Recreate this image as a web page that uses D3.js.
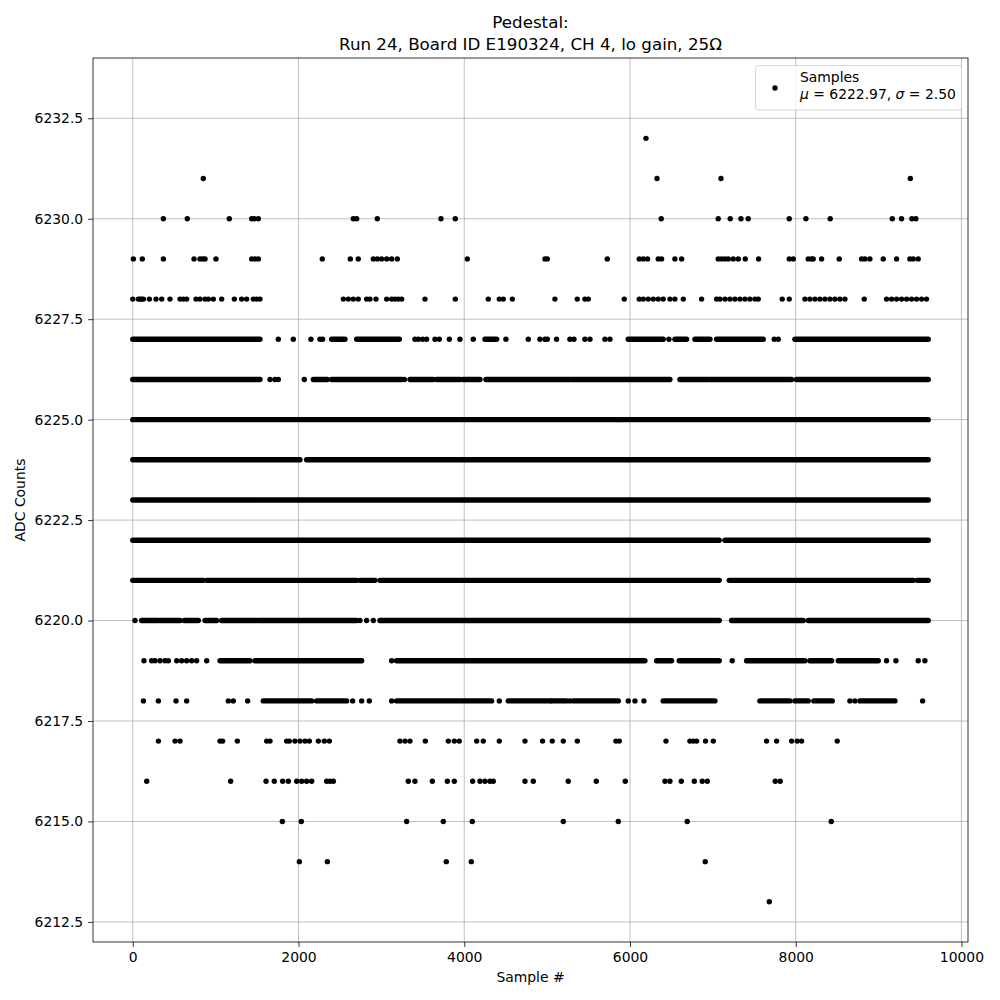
<!DOCTYPE html>
<html>
<head>
<meta charset="utf-8">
<script src="https://cdn.jsdelivr.net/npm/d3@7"></script>
<style>
  body { margin: 0; background: #fff; }
  text { font-family: "DejaVu Sans", sans-serif; fill: #000; }
</style>
</head>
<body>
<script>
// ADC levels (one row of samples per integer count)
var levels = [6232, 6231, 6230, 6229, 6228, 6227, 6226, 6225, 6224, 6223,
              6222, 6221, 6220, 6219, 6218, 6217, 6216, 6215, 6214, 6213];

// isolated samples (sample #) at each level, same order as levels
var isolated = [
  [6193],
  [851, 6326, 7098, 9383],
  [369, 658, 1165, 1435, 1467, 1515, 2661, 2702, 2951, 3719, 3892, 6377, 7065, 7210, 7339, 7427, 7922, 8123, 8416, 9165, 9277, 9402, 9450],
  [7, 115, 369, 739, 811, 843, 872, 1004, 1435, 1475, 1515, 2287, 2625, 2721, 2903, 2951, 3003, 3064, 3124, 3192, 4037, 4974, 5002, 5726, 6112, 6160, 6212, 6341, 6381, 6542, 6623, 7065, 7105, 7146, 7186, 7246, 7307, 7391, 7552, 7922, 7970, 8151, 8191, 8211, 8312, 8525, 8795, 8835, 8895, 9056, 9217, 9378, 9418, 9478],
  [0, 67, 87, 107, 128, 200, 280, 349, 449, 570, 610, 650, 763, 811, 872, 912, 972, 1073, 1226, 1314, 1374, 1455, 1495, 1535, 2541, 2601, 2661, 2721, 2822, 2862, 2935, 3064, 3124, 3164, 3204, 3245, 3526, 3892, 4290, 4423, 4471, 4580, 5094, 5364, 5456, 5497, 5931, 6112, 6160, 6220, 6281, 6341, 6401, 6482, 6542, 6643, 6864, 7045, 7085, 7146, 7206, 7266, 7327, 7387, 7447, 7508, 7548, 7837, 7922, 8111, 8171, 8232, 8292, 8352, 8413, 8473, 8533, 8594, 8827, 9096, 9157, 9217, 9278, 9338, 9398, 9458, 9519, 9579],
  [1756, 1937, 2150, 2259, 2291, 3405, 3446, 3498, 3546, 3647, 3699, 3820, 3948, 4109, 4503, 4773, 4913, 4974, 5002, 5114, 5275, 5324, 5456, 5517, 5698, 5758, 6470, 7741, 7789],
  [1656, 1716, 1756, 2070, 3277],
  [],
  [],
  [],
  [],
  [],
  [27, 2742, 2822, 2903],
  [135, 228, 268, 329, 389, 429, 530, 590, 650, 711, 771, 892, 3124, 7234, 9096, 9209, 9478, 9559],
  [128, 309, 522, 650, 1153, 1213, 1386, 2653, 2762, 2854, 3124, 4423, 5275, 5979, 6060, 6168, 8654, 8714, 9531],
  [309, 510, 570, 1053, 1085, 1262, 1616, 1656, 1857, 1889, 1957, 2018, 2078, 2131, 2239, 2311, 2372, 3224, 3285, 3345, 3530, 3808, 3880, 3940, 4150, 4230, 4423, 4733, 4945, 5062, 5195, 5364, 5830, 5871, 6434, 6723, 6764, 6804, 6912, 7005, 7648, 7769, 7950, 8018, 8071, 8501],
  [168, 1181, 1608, 1708, 1809, 1877, 1978, 2038, 2098, 2159, 2340, 2380, 2420, 3325, 3405, 3615, 3796, 3880, 4101, 4190, 4250, 4310, 4350, 4733, 4833, 5255, 5593, 5943, 6422, 6482, 6619, 6776, 6872, 6933, 7753, 7813],
  [1805, 2034, 3305, 3747, 4097, 5195, 5859, 6691, 8429],
  [2010, 2348, 3783, 4085, 6908],
  [7681]
];

// dense runs of consecutive samples [first, last] at each level
var runs = [
  [], [], [], [], [],
  [[0, 1535], [2400, 2561], [2702, 3217], [4250, 4391], [5979, 6401], [6542, 6683], [6784, 6965], [7045, 7608], [7990, 9599]],
  [[0, 1535], [2179, 2348], [2400, 3245], [3345, 3627], [3667, 3948], [3980, 4190], [4262, 5275], [5295, 6482], [6603, 6944], [6965, 7950], [8010, 9599]],
  [[0, 5845], [5870, 9599]],
  [[0, 2018], [2098, 9599]],
  [[0, 9599]],
  [[0, 7077], [7146, 9599]],
  [[0, 851], [892, 2702], [2742, 2923], [2983, 7077], [7198, 9418], [9466, 9599]],
  [[107, 309], [329, 570], [622, 791], [872, 1012], [1073, 1495], [1515, 2702], [2983, 7077], [7226, 8091], [8151, 9599]],
  [[1053, 1414], [1475, 2762], [3184, 5014], [5034, 6180], [6321, 6502], [6594, 7077], [7407, 8111], [8171, 8433], [8513, 8996]],
  [[1575, 2159], [2219, 2581], [3184, 4330], [4532, 5034], [5054, 5235], [5316, 5859], [6401, 7025], [7568, 7930], [7990, 8151], [8219, 8441], [8775, 9197]],
  [], [], [], [], []
];

var xTicks = [0, 2000, 4000, 6000, 8000, 10000];
var yTicks = [6212.5, 6215.0, 6217.5, 6220.0, 6222.5, 6225.0, 6227.5, 6230.0, 6232.5];

var w = 1000, h = 1000;
var mLeft = 93, mRight = 968, mTop = 58, mBottom = 942;
var r = 2.7;

var svg = d3.select("body").append("svg")
    .attr("width", w)
    .attr("height", h)
    .style("background", "#fff");

var x = d3.scaleLinear().domain([-480, 10079]).range([mLeft, mRight]);
var y = d3.scaleLinear().domain([6212, 6234]).range([mBottom, mTop]);

// grid
svg.append("g").selectAll("line").data(xTicks).enter().append("line")
    .attr("x1", function(d){ return x(d); }).attr("x2", function(d){ return x(d); })
    .attr("y1", mTop).attr("y2", mBottom)
    .attr("stroke", "#b0b0b0").attr("stroke-width", 0.8);
svg.append("g").selectAll("line").data(yTicks).enter().append("line")
    .attr("x1", mLeft).attr("x2", mRight)
    .attr("y1", function(d){ return y(d); }).attr("y2", function(d){ return y(d); })
    .attr("stroke", "#b0b0b0").attr("stroke-width", 0.8);

// flatten the data
var pts = [], segs = [];
levels.forEach(function(v, i){
    isolated[i].forEach(function(s){ pts.push({s: s, v: v}); });
    runs[i].forEach(function(rg){ segs.push({a: rg[0], b: rg[1], v: v}); });
});

// dense runs: overlapping markers render as a solid band
svg.append("g").selectAll("line").data(segs).enter().append("line")
    .attr("x1", function(d){ return x(d.a); })
    .attr("x2", function(d){ return x(d.b); })
    .attr("y1", function(d){ return y(d.v); })
    .attr("y2", function(d){ return y(d.v); })
    .attr("stroke", "#000")
    .attr("stroke-width", r * 2)
    .attr("stroke-linecap", "round");

svg.append("g").selectAll("circle").data(pts).enter().append("circle")
    .attr("cx", function(d){ return x(d.s); })
    .attr("cy", function(d){ return y(d.v); })
    .attr("r", r)
    .attr("fill", "#000");

// axes
var xAxis = svg.append("g")
    .attr("transform", "translate(0," + mBottom + ")")
    .call(d3.axisBottom(x).tickValues(xTicks).tickFormat(d3.format("d")).tickSizeInner(4.9).tickSizeOuter(0).tickPadding(4.9));
var yAxis = svg.append("g")
    .attr("transform", "translate(" + mLeft + ",0)")
    .call(d3.axisLeft(y).tickValues(yTicks).tickFormat(d3.format(".1f")).tickSizeInner(4.9).tickSizeOuter(0).tickPadding(4.9));
[xAxis, yAxis].forEach(function(a){
    a.select(".domain").remove();
    a.selectAll("line").attr("stroke", "#000").attr("stroke-width", 0.8);
    a.selectAll("text").style("font-family", "DejaVu Sans").style("font-size", "13.9px");
});

svg.append("rect")
    .attr("x", mLeft).attr("y", mTop)
    .attr("width", mRight - mLeft).attr("height", mBottom - mTop)
    .attr("fill", "none").attr("stroke", "#000").attr("stroke-width", 0.8);

// titles and labels
var title = svg.append("text")
    .attr("text-anchor", "middle")
    .style("font-size", "16.7px");
title.append("tspan").attr("x", (mLeft + mRight) / 2).attr("y", 28).text("Pedestal:");
title.append("tspan").attr("x", (mLeft + mRight) / 2).attr("y", 50).text("Run 24, Board ID E190324, CH 4, lo gain, 25Ω");

svg.append("text")
    .attr("x", (mLeft + mRight) / 2).attr("y", 982)
    .attr("text-anchor", "middle")
    .style("font-size", "13.9px")
    .text("Sample #");

svg.append("text")
    .attr("transform", "translate(25," + ((mTop + mBottom) / 2) + ") rotate(-90)")
    .attr("text-anchor", "middle")
    .style("font-size", "13.9px")
    .text("ADC Counts");

// legend
var lg = svg.append("g");
lg.append("rect")
    .attr("x", 755.5).attr("y", 65.5)
    .attr("width", 206).attr("height", 44.5)
    .attr("rx", 3)
    .attr("fill", "#fff").attr("fill-opacity", 0.8)
    .attr("stroke", "#cccccc").attr("stroke-width", 0.8);
lg.append("circle").attr("cx", 775).attr("cy", 88).attr("r", r).attr("fill", "#000");
lg.append("text").attr("x", 800).attr("y", 81.5).style("font-size", "13.9px").text("Samples");
var l2 = lg.append("text").attr("x", 800).attr("y", 98.5).style("font-size", "13.9px");
l2.append("tspan").style("font-style", "italic").text("μ");
l2.append("tspan").text(" = 6222.97, ");
l2.append("tspan").style("font-style", "italic").text("σ");
l2.append("tspan").text(" = 2.50");
</script>
</body>
</html>
